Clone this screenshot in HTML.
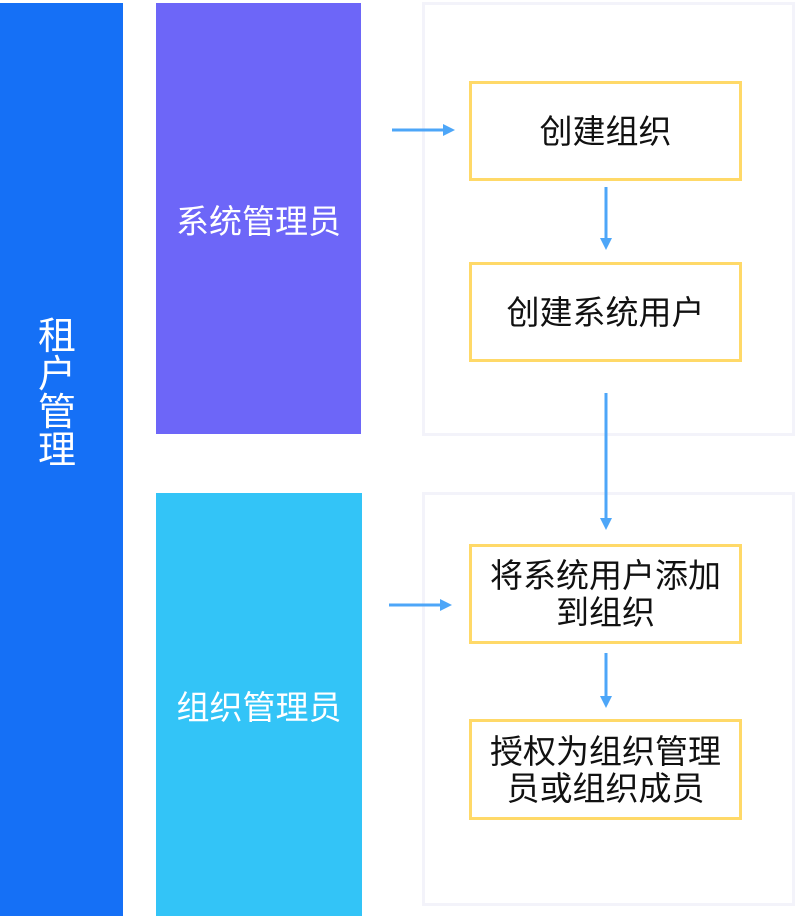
<!DOCTYPE html>
<html><head><meta charset="utf-8"><style>
body{margin:0;width:795px;height:916px;background:#fff;position:relative;overflow:hidden;font-family:"Liberation Sans","Noto Sans CJK SC",sans-serif}
div{position:absolute;box-sizing:border-box}
.c{display:flex;align-items:center;justify-content:center;text-align:center}
.y{border:3px solid #ffd968;background:#fff;font-size:33px;color:#111;line-height:37px;left:469px;width:273px}
.p{border:3px solid #f3f3fa;left:422px;width:373px}
</style></head><body>
<div style="left:0;top:3px;width:123px;height:913px;background:#1570f6"></div>
<div style="left:37px;top:318px;width:40px;color:#fff;font-size:38px;line-height:38px;text-align:center">租<br>户<br>管<br>理</div>
<div class="c" style="left:156px;top:3px;width:205px;height:431px;background:#6d66f8;color:#fff;font-size:33px">系统管理员</div>
<div class="c" style="left:156px;top:493px;width:206px;height:423px;background:#33c4f7;color:#fff;font-size:33px">组织管理员</div>
<div class="p" style="top:2px;height:434px"></div>
<div class="p" style="top:492px;height:414px"></div>
<div class="y c" style="top:81px;height:100px">创建组织</div>
<div class="y c" style="top:262px;height:100px">创建系统用户</div>
<div class="y c" style="top:544px;height:100px">将系统用户添加<br>到组织</div>
<div class="y c" style="top:719px;height:101px">授权为组织管理<br>员或组织成员</div>
<svg style="position:absolute;left:0;top:0" width="795" height="916">
<g stroke="#4da6f8" stroke-width="3" fill="#4da6f8">
<line x1="392" y1="130" x2="444" y2="130"/><polygon points="443,124 455,130 443,136" stroke="none"/>
<line x1="389" y1="605" x2="441" y2="605"/><polygon points="440,599 452,605 440,611" stroke="none"/>
<line x1="606" y1="187" x2="606" y2="240"/><polygon points="600,238 606,250 612,238" stroke="none"/>
<line x1="606" y1="393" x2="606" y2="520"/><polygon points="600,518 606,530 612,518" stroke="none"/>
<line x1="606" y1="653" x2="606" y2="698"/><polygon points="600,696 606,708 612,696" stroke="none"/>
</g></svg>
</body></html>
